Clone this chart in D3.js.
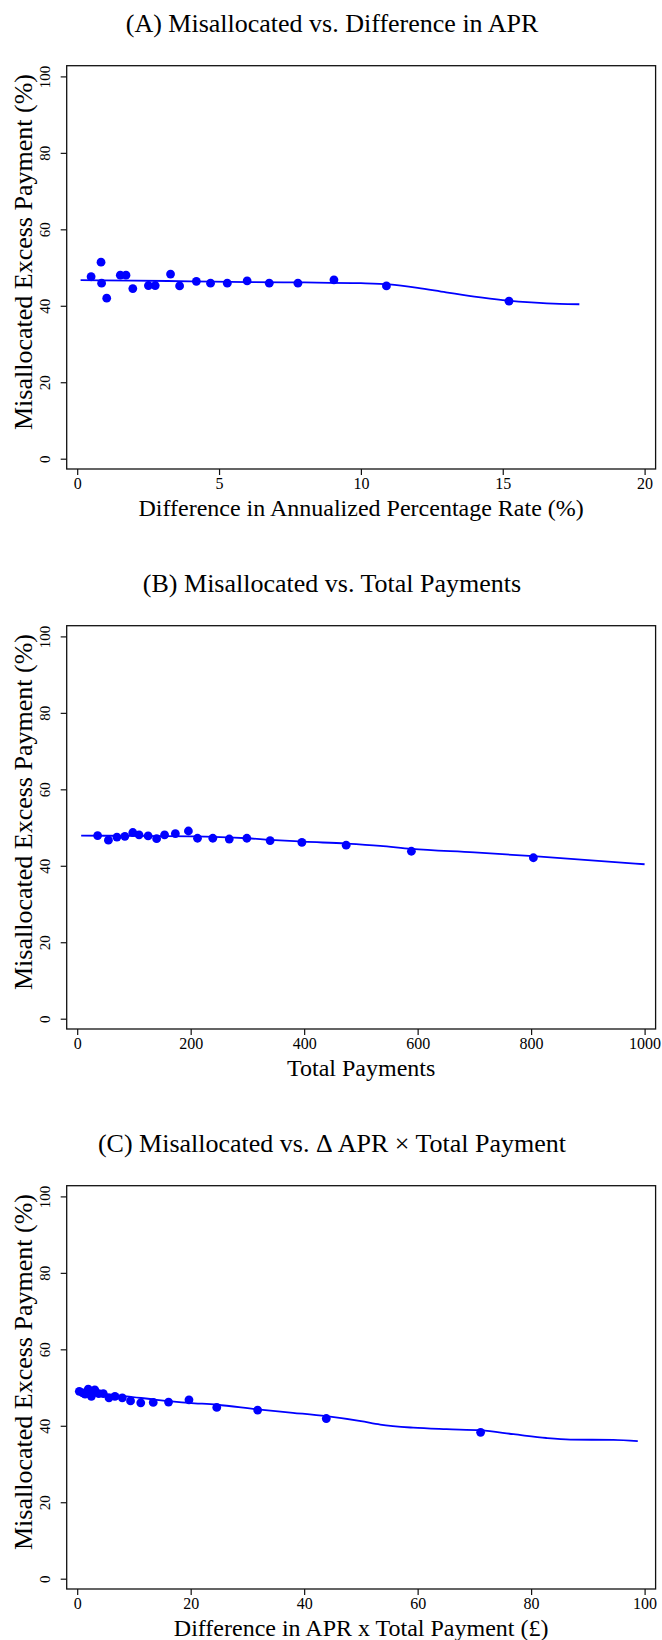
<!DOCTYPE html>
<html><head><meta charset="utf-8">
<script src="https://cdn.jsdelivr.net/npm/d3@7"></script>
<style>body{margin:0;background:#fff}svg{display:block}text{font-family:"Liberation Serif","Times New Roman",serif;fill:#000}</style>
</head><body>
<script>
// Panel A
const aTitle = "(A)  Misallocated vs. Difference in APR";
const aXLabel = "Difference in Annualized Percentage Rate (%)";
const aXTicks = [0, 5, 10, 15, 20];
const aPointsX = [0.49, 0.84, 0.86, 1.04, 1.52, 1.72, 1.96, 2.51, 2.75, 3.29, 3.61, 4.20, 4.70, 5.29, 5.99, 6.77, 7.78, 9.05, 10.9, 15.22];
const aPointsY = [47.6, 51.4, 45.9, 42.0, 48.0, 48.0, 44.5, 45.3, 45.3, 48.3, 45.2, 46.4, 45.9, 45.9, 46.5, 45.9, 45.9, 46.8, 45.2, 41.2];
const aLineX = [0.12, 2, 4, 6, 8, 10, 11, 12, 13, 14, 15, 16, 17, 17.7];
const aLineY = [46.7, 46.6, 46.4, 46.2, 46.1, 45.9, 45.6, 44.7, 43.5, 42.4, 41.5, 40.9, 40.5, 40.4];
// Panel B
const bTitle = "(B)  Misallocated vs. Total Payments";
const bXLabel = "Total Payments";
const bXTicks = [0, 200, 400, 600, 800, 1000];
const bPointsX = [36, 55, 70, 84, 98, 109, 125, 140, 154, 173, 196, 212, 239, 268, 299, 340, 396, 474, 589, 804];
const bPointsY = [47.9, 46.7, 47.5, 47.7, 48.7, 48.1, 47.8, 47.1, 48.1, 48.4, 49.1, 47.2, 47.2, 47.0, 47.2, 46.6, 46.1, 45.4, 43.8, 42.1];
const bLineX = [7, 100, 200, 300, 340, 400, 474, 534, 589, 700, 804, 900, 1000];
const bLineY = [47.9, 47.8, 47.7, 47.2, 46.8, 46.3, 45.8, 45.2, 44.4, 43.5, 42.5, 41.5, 40.4];
// Panel C
const cTitle = "(C)  Misallocated vs. \u0394 APR \u00d7 Total Payment";
const cXLabel = "Difference in APR x Total Payment (\u00a3)";
const cXTicks = [0, 20, 40, 60, 80, 100];
const cPointsX = [0.37, 0.97, 1.4, 1.95, 2.5, 3.1, 3.8, 4.6, 5.6, 6.65, 7.95, 9.4, 11.2, 13.4, 16.1, 19.7, 24.6, 31.8, 43.9, 71.1];
const cPointsY = [49.0, 48.6, 48.3, 49.6, 47.7, 49.4, 48.4, 48.4, 47.3, 47.7, 47.3, 46.5, 46.0, 46.1, 46.2, 46.8, 44.8, 44.1, 41.9, 38.3];
const cLineX = [0.3, 4, 8.7, 14, 19.7, 24.6, 31.8, 38, 43.9, 50, 53.4, 59.2, 65.1, 71.1, 76.9, 82.7, 86.9, 94.5, 98.8];
const cLineY = [49.0, 48.4, 47.7, 46.8, 46.0, 45.5, 44.3, 43.4, 42.5, 41.2, 40.3, 39.5, 39.1, 38.8, 37.8, 36.8, 36.4, 36.3, 36.0];

const yLabel = "Misallocated Excess Payment (%)";
const yTicks = [0, 20, 40, 60, 80, 100];

const panels = [
  {title: aTitle, xLabel: aXLabel, xTicks: aXTicks, xMax: 20, px: aPointsX, py: aPointsY, lx: aLineX, ly: aLineY},
  {title: bTitle, xLabel: bXLabel, xTicks: bXTicks, xMax: 1000, px: bPointsX, py: bPointsY, lx: bLineX, ly: bLineY},
  {title: cTitle, xLabel: cXLabel, xTicks: cXTicks, xMax: 100, px: cPointsX, py: cPointsY, lx: cLineX, ly: cLineY}
];

const W = 662, H = 1640;
const svg = d3.select("body").append("svg").attr("width", W).attr("height", H);
const blue = "#0000ff";

panels.forEach((p, i) => {
  const top = 65.7 + i * 560;
  const fL = 66.7, fR = 655.6, fT = top, fB = top + 403.3;
  const x = d3.scaleLinear().domain([0, p.xMax]).range([77.2, 644.6]);
  const y = d3.scaleLinear().domain([0, 100]).range([top + 393, top + 10.7]);
  const g = svg.append("g");

  g.append("text").attr("x", 332).attr("y", top - 34).attr("text-anchor", "middle")
    .style("font-size", "26px").text(p.title);

  g.append("rect").attr("x", fL).attr("y", fT).attr("width", fR - fL).attr("height", fB - fT)
    .attr("fill", "none").attr("stroke", "#111").attr("stroke-width", 1.3);

  const xAxis = g.append("g").attr("transform", `translate(0,${fB})`)
    .call(d3.axisBottom(x).tickValues(p.xTicks).tickSize(6).tickPadding(3).tickFormat(d3.format("d")));
  xAxis.select(".domain").remove();
  xAxis.selectAll("line").attr("stroke", "#111").attr("stroke-width", 1.2);
  xAxis.selectAll("text").style("font-size", "16px").attr("font-family", null).attr("fill", "#000");

  const yAxis = g.append("g").attr("transform", `translate(${fL},0)`)
    .call(d3.axisLeft(y).tickValues(yTicks).tickSize(6).tickFormat(d3.format("d")));
  yAxis.select(".domain").remove();
  yAxis.selectAll("line").attr("stroke", "#111").attr("stroke-width", 1.2);
  yAxis.selectAll("text").style("font-size", "15px").attr("font-family", null).attr("fill", "#000")
    .attr("x", null).attr("dy", null).attr("text-anchor", "middle")
    .attr("transform", "translate(-16.7,0) rotate(-90)");

  g.append("text").attr("transform", `translate(32,${fB - 39}) rotate(-90)`)
    .attr("text-anchor", "start").style("font-size", "26px").text(yLabel);

  g.append("text").attr("x", (fL + fR) / 2).attr("y", fB + 47).attr("text-anchor", "middle")
    .style("font-size", "24px").text(p.xLabel);

  const line = d3.line().x((d, k) => x(p.lx[k])).y((d, k) => y(p.ly[k])).curve(d3.curveMonotoneX);
  g.append("path").datum(p.lx).attr("d", line).attr("fill", "none").attr("stroke", blue).attr("stroke-width", 1.8);

  g.selectAll("circle").data(p.px).enter().append("circle")
    .attr("cx", (d) => x(d)).attr("cy", (d, k) => y(p.py[k])).attr("r", 4.4).attr("fill", blue);
});
</script>
</body></html>
